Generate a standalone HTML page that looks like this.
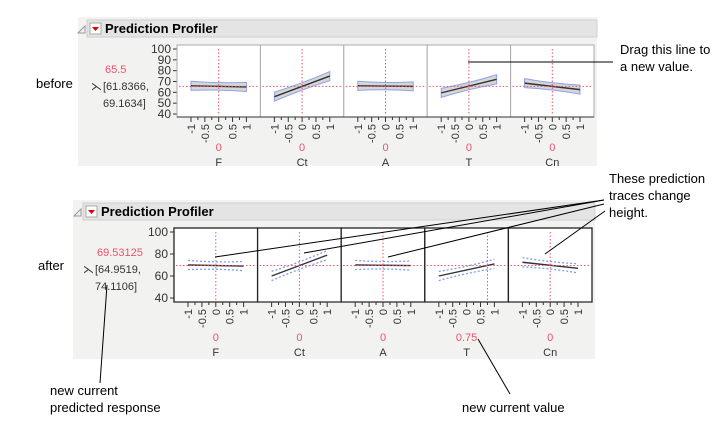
<!DOCTYPE html>
<html><head><meta charset="utf-8"><style>
body{margin:0;width:716px;height:420px;background:#fff;overflow:hidden;font-family:"Liberation Sans",sans-serif}
</style></head><body>
<svg id="s" width="716" height="420" xmlns="http://www.w3.org/2000/svg" font-family="Liberation Sans, sans-serif"></svg>
<script>
var s=document.getElementById('s'),h='';
function add(x){h+=x;}
function panel(o){
 add('<rect x="'+o.bx+'" y="'+o.by+'" width="'+o.bw+'" height="'+o.bh+'" fill="#f2f2f0"/>');
 add('<rect x="'+o.hx+'" y="'+o.hy+'" width="'+o.hw+'" height="17" fill="#e4e4e4" stroke="#cfcfcf"/>');
 add('<path d="M'+(o.hx-9)+' '+(o.hy+13)+' l7 0 l0 -7z" fill="none" stroke="#999"/>');
 add('<rect x="'+(o.hx+3)+'" y="'+(o.hy+3)+'" width="11" height="11" fill="#fff" stroke="#aaa"/><path d="M'+(o.hx+5)+' '+(o.hy+7)+' l7 0 l-3.5 4z" fill="#d00"/>');
 add('<text x="'+(o.hx+18)+'" y="'+(o.hy+13)+'" font-size="13" font-weight="bold" fill="#000">Prediction Profiler</text>');
 var x0=o.px0,W=o.cellW,pt=o.pt,pb=o.pb;
 function Y(v){return o.y40-(v-40)*(o.y40-o.y100)/60;}
 add('<line x1="'+x0+'" y1="'+pt+'" x2="'+x0+'" y2="'+pb+'" stroke="#333"/>');
 o.yt.forEach(function(v){add('<line x1="'+(x0-4)+'" y1="'+Y(v)+'" x2="'+x0+'" y2="'+Y(v)+'" stroke="#333"/><text x="'+(x0-6)+'" y="'+(Y(v)+4)+'" font-size="12" text-anchor="end" fill="#333">'+v+'</text>');});
 var names=['F','Ct','A','T','Cn'];
 for(var i=0;i<5;i++){
  var cx=x0+i*W, xa=cx+14, xb=cx+W-14;
  function X(u){return xa+(u+1)/2*(xb-xa);}
  add('<rect x="'+cx+'" y="'+pt+'" width="'+W+'" height="'+(pb-pt)+'" fill="#fff" stroke="'+(o.black?'#222':'#aaa')+'" stroke-width="'+(o.black?1.3:1)+'"/>');
  var c=o.vals[i];
  var ya=Y(c[0]),yb=Y(c[1]);
  var w1=Y(0)-Y(4.2),w0=Y(0)-Y(3.4);
  var ym=(ya+yb)/2;
  if(!o.black){
   add('<path d="M'+X(-1)+' '+(ya-w1)+' Q'+X(0)+' '+(ym-w0*2+w1)+' '+X(1)+' '+(yb-w1)+' L'+X(1)+' '+(yb+w1)+' Q'+X(0)+' '+(ym+w0*2-w1)+' '+X(-1)+' '+(ya+w1)+'Z" fill="#d6d6d6" stroke="#8aa4e8" stroke-width="1"/>');
  } else {
   add('<path d="M'+X(-1)+' '+(ya-w1)+' Q'+X(0)+' '+(ym-w0*2+w1)+' '+X(1)+' '+(yb-w1)+'" fill="none" stroke="#7f9cf5" stroke-width="1.3" stroke-dasharray="2,2"/>');
   add('<path d="M'+X(-1)+' '+(ya+w1)+' Q'+X(0)+' '+(ym+w0*2-w1)+' '+X(1)+' '+(yb+w1)+'" fill="none" stroke="#7f9cf5" stroke-width="1.3" stroke-dasharray="2,2"/>');
  }
  add('<line x1="'+X(-1)+'" y1="'+ya+'" x2="'+X(1)+'" y2="'+yb+'" stroke="#333" stroke-width="1.4"/>');
  var ux=X(o.ux[i]);
  add('<line x1="'+(cx+2)+'" y1="'+Y(o.resp)+'" x2="'+(cx+W-2)+'" y2="'+Y(o.resp)+'" stroke="#f0506a" stroke-dasharray="1.5,2"/>');
  add('<line x1="'+ux+'" y1="'+(pt+4)+'" x2="'+ux+'" y2="'+(pb-2)+'" stroke="#f0506a" stroke-dasharray="1.5,2"/>');
  for(var k=0;k<=8;k++){var u=-1+k*0.25;add('<line x1="'+X(u)+'" y1="'+pb+'" x2="'+X(u)+'" y2="'+(pb+(k%2?3:5))+'" stroke="#333"/>');}
  ['-1','-0.5','0','0.5','1'].forEach(function(t,j){var tx=X(-1+j*0.5)+4;add('<text transform="translate('+tx+','+(pb+7)+') rotate(-90)" font-size="11" text-anchor="end" fill="#333">'+t+'</text>');});
  add('<text x="'+(cx+W/2)+'" y="'+o.valY+'" font-size="11" text-anchor="middle" fill="#f0506a">'+o.ulab[i]+'</text>');
  add('<text x="'+(cx+W/2)+'" y="'+(o.valY+15)+'" font-size="11" text-anchor="middle" fill="#333">'+names[i]+'</text>');
 }
 add('<line x1="'+x0+'" y1="'+pb+'" x2="'+(x0+5*W)+'" y2="'+pb+'" stroke="#333"/>');
 add('<text x="'+o.rx+'" y="'+o.ry+'" font-size="11" fill="#f0506a">'+o.r1+'</text>');
 add('<text x="'+(o.rx-14)+'" y="'+(o.ry+17)+'" font-size="11" fill="#333">&#x22CB;</text>');
 add('<text x="'+(o.rx-2)+'" y="'+(o.ry+17)+'" font-size="11" fill="#333">'+o.r2+'</text>');
 add('<text x="'+(o.rx-2)+'" y="'+(o.ry+34)+'" font-size="11" fill="#333">'+o.r3+'</text>');
}
panel({bx:78,by:17,bw:519,bh:149,hx:87,hy:20,hw:510,px0:177,pt:45,pb:117,y100:49,y40:114,cellW:83.4,
 yt:[100,90,80,70,60,50,40],black:false,resp:65.5,
 vals:[[66,65],[56,75],[66,65.5],[59.5,72],[68.5,62.5]],ux:[0,0,0,0,0],ulab:['0','0','0','0','0'],valY:151,
 rx:105,ry:73,r1:'65.5',r2:'[61.8366,',r3:'69.1634]'});
panel({bx:73,by:200,bw:522,bh:159,hx:83,hy:203,hw:512,px0:174,pt:228,pb:302,y100:232,y40:298,cellW:83.6,
 yt:[100,80,60,40],black:true,resp:69.5,
 vals:[[70,69],[60,79],[70,69.5],[60,71],[72.5,67]],ux:[0,0,0,0.75,0],ulab:['0','0','0','0.75','0'],valY:341,
 rx:97,ry:256,r1:'69.53125',r2:'[64.9519,',r3:'74.1106]'});
var t='font-size="13" fill="#000"';
add('<text x="36" y="88" '+t+'>before</text><text x="38" y="270" '+t+'>after</text>');
add('<text x="620" y="54" '+t+'>Drag this line to</text><text x="620" y="71" '+t+'>a new value.</text>');
add('<line x1="468" y1="62" x2="613" y2="62" stroke="#000"/>');
add('<text x="609" y="183" '+t+'>These prediction</text><text x="609" y="200" '+t+'>traces change</text><text x="609" y="217" '+t+'>height.</text>');
add('<g stroke="#000"><line x1="604" y1="200" x2="215" y2="257"/><line x1="604" y1="200" x2="304" y2="253"/><line x1="604" y1="204" x2="388" y2="257"/><line x1="605" y1="211" x2="545" y2="254"/><line x1="107" y1="285" x2="100" y2="383"/><line x1="478" y1="339" x2="510" y2="394"/></g>');
add('<text x="50" y="395" '+t+'>new current</text><text x="50" y="412" '+t+'>predicted response</text>');
add('<text x="462" y="412" '+t+'>new current value</text>');
s.innerHTML=h;
</script>
</body></html>
